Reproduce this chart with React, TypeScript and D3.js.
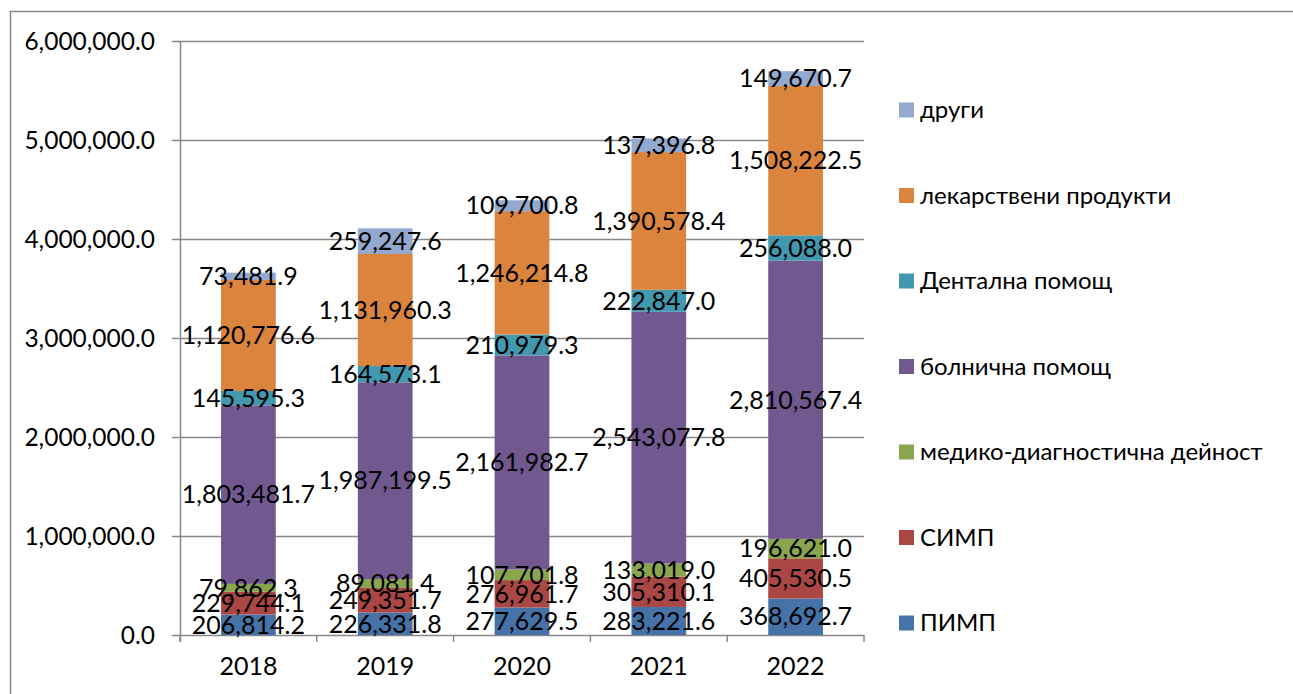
import React, { useEffect, useRef } from "react";
import * as d3 from "d3";

const years = ["2018", "2019", "2020", "2021", "2022"];

// stacking order bottom -> top
const seriesNames = [
  "ПИМП",
  "СИМП",
  "медико-диагностична дейност",
  "болнична помощ",
  "Дентална помощ",
  "лекарствени продукти",
  "други",
];

const seriesColors = [
  "#4572A7",
  "#AA4643",
  "#89A54E",
  "#71588F",
  "#4198AF",
  "#DB843D",
  "#93A9CF",
];

const pimp = [206814.2, 226331.8, 277629.5, 283221.6, 368692.7];
const simp = [229744.1, 249351.7, 276961.7, 305310.1, 405530.5];
const medDiag = [79862.3, 89081.4, 107701.8, 133019.0, 196621.0];
const hospital = [1803481.7, 1987199.5, 2161982.7, 2543077.8, 2810567.4];
const dental = [145595.3, 164573.1, 210979.3, 222847.0, 256088.0];
const drugs = [1120776.6, 1131960.3, 1246214.8, 1390578.4, 1508222.5];
const other = [73481.9, 259247.6, 109700.8, 137396.8, 149670.7];

const seriesValues = [pimp, simp, medDiag, hospital, dental, drugs, other];

const yTicks = [0, 1000000, 2000000, 3000000, 4000000, 5000000, 6000000];

const FONT = "Lato, 'Liberation Sans', sans-serif";

const App = () => {
  const ref = useRef<SVGSVGElement | null>(null);

  useEffect(() => {
    const svg = d3.select(ref.current);
    svg.selectAll("*").remove();

    const left = 180;
    const right = 864;
    const top = 41;
    const bottom = 635;

    const x = d3.scaleBand().domain(years).range([left, right]).paddingInner(0.6).paddingOuter(0.3);
    const xBounds = d3.scaleBand().domain(years).range([left, right]);
    const y = d3.scaleLinear().domain([0, 6000000]).range([bottom, top]);
    const fmt = d3.format(",.1f");

    // outer frame
    svg
      .append("rect")
      .attr("x", 10.5)
      .attr("y", 11.5)
      .attr("width", 1300)
      .attr("height", 700)
      .style("fill", "none")
      .style("stroke", "#888")
      .style("stroke-width", 1.5);

    // gridlines
    svg
      .append("g")
      .selectAll("line")
      .data(yTicks)
      .join("line")
      .attr("x1", left - 8)
      .attr("x2", right)
      .attr("y1", (d) => Math.round(y(d)) + 0.5)
      .attr("y2", (d) => Math.round(y(d)) + 0.5)
      .style("stroke", "#888")
      .style("stroke-width", 1.5);

    // y tick labels
    svg
      .append("g")
      .selectAll("text")
      .data(yTicks)
      .join("text")
      .attr("x", 155)
      .attr("y", (d) => y(d))
      .attr("dy", "0.35em")
      .style("text-anchor", "end")
      .style("font-family", FONT)
      .style("font-size", "24.5px")
      .style("fill", "#000")
      .text((d) => fmt(d));

    // vertical axis
    svg
      .append("line")
      .attr("x1", left + 0.5)
      .attr("x2", left + 0.5)
      .attr("y1", top)
      .attr("y2", bottom + 7)
      .style("stroke", "#888")
      .style("stroke-width", 1.5);

    // category ticks
    const bounds = years.map((yr) => xBounds(yr) as number).concat([right]);
    svg
      .append("g")
      .selectAll("line")
      .data(bounds)
      .join("line")
      .attr("x1", (d) => d)
      .attr("x2", (d) => d)
      .attr("y1", bottom)
      .attr("y2", bottom + 7)
      .style("stroke", "#888")
      .style("stroke-width", 1.5);

    // stacked data
    const table = years.map((yr, i) => {
      const row: Record<string, any> = { year: yr };
      seriesNames.forEach((s, j) => (row[s] = seriesValues[j][i]));
      return row;
    });
    const stack = d3.stack<Record<string, any>>().keys(seriesNames)(table);

    const layers = svg
      .append("g")
      .selectAll("g")
      .data(stack)
      .join("g")
      .style("fill", (_, i) => seriesColors[i]);

    layers
      .selectAll("rect")
      .data((d) => d)
      .join("rect")
      .attr("x", (d) => x(d.data.year) as number)
      .attr("width", x.bandwidth())
      .attr("y", (d) => y(d[1]))
      .attr("height", (d) => y(d[0]) - y(d[1]));

    // data labels
    const labels = svg.append("g");
    stack.forEach((layer) => {
      layer.forEach((d) => {
        labels
          .append("text")
          .attr("x", (x(d.data.year) as number) + x.bandwidth() / 2)
          .attr("y", (y(d[0]) + y(d[1])) / 2)
          .attr("dy", "0.35em")
          .style("text-anchor", "middle")
          .style("font-family", FONT)
          .style("font-size", "25px")
          .style("fill", "#000")
          .text(fmt(d[1] - d[0]));
      });
    });

    // category labels
    svg
      .append("g")
      .selectAll("text")
      .data(years)
      .join("text")
      .attr("x", (d) => (xBounds(d) as number) + xBounds.bandwidth() / 2)
      .attr("y", 666)
      .attr("dy", "0.35em")
      .style("text-anchor", "middle")
      .style("font-family", FONT)
      .style("font-size", "25px")
      .style("fill", "#000")
      .text((d) => d);

    // legend (top item = last series)
    const legendOrder = seriesNames.map((_, i) => i).reverse();
    const legend = svg.append("g");
    legendOrder.forEach((si, k) => {
      const cy = 110 + k * 85.5;
      legend
        .append("rect")
        .attr("x", 899)
        .attr("y", cy - 7.5)
        .attr("width", 15)
        .attr("height", 15)
        .style("fill", seriesColors[si]);
      legend
        .append("text")
        .attr("x", 920)
        .attr("y", cy)
        .attr("dy", "0.35em")
        .style("font-family", FONT)
        .style("font-size", "24px")
        .style("fill", "#000")
        .text(seriesNames[si]);
    });
  }, []);

  return (
    <svg
      ref={ref}
      width={1293}
      height={694}
      style={{ position: "absolute", left: 0, top: 0, background: "#fff" }}
    />
  );
};

export default App;
